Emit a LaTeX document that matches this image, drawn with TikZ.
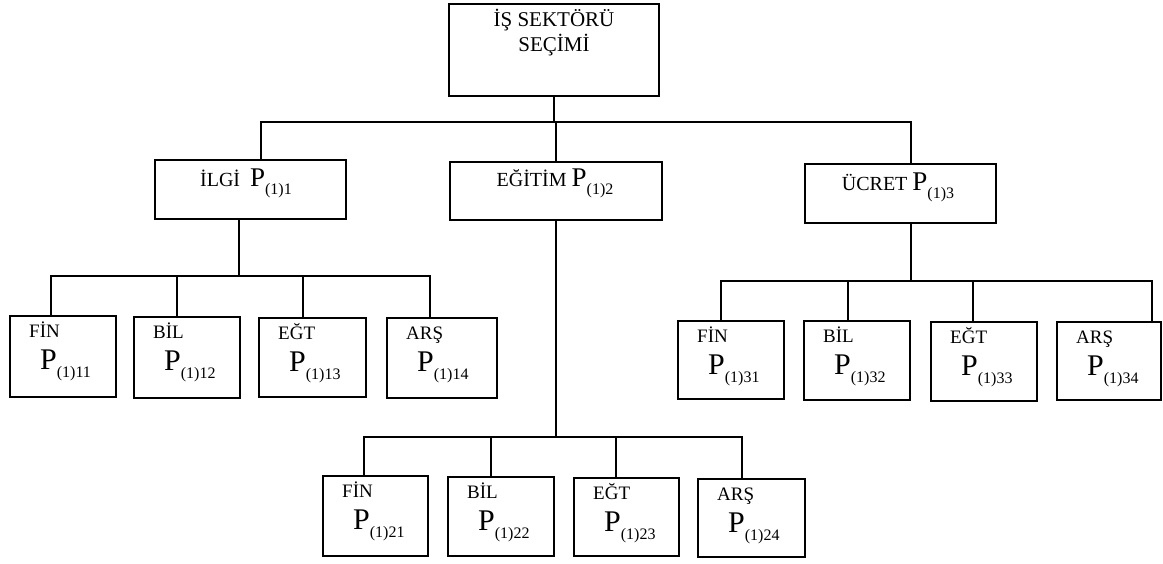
\documentclass[tikz,border=0pt]{standalone}
\usepackage{fontspec}
\setmainfont{Liberation Serif}
\usetikzlibrary{calc}
\newcommand{\Psub}[3]{{\fontsize{#1}{#1}\selectfont P}\raisebox{-8pt}{\fontsize{#2}{#2}\selectfont #3}}
\begin{document}
\begin{tikzpicture}[x=1pt,y=-1pt,
  box/.style={draw, line width=1.6pt, rectangle, inner sep=0pt, outer sep=0pt, anchor=north west},
  leafbox/.style={box, minimum width=106pt, minimum height=81pt},
  midbox/.style={box, minimum width=191pt, minimum height=59pt},
  conn/.style={line width=1.6pt},
  lbl/.style={inner sep=0pt, anchor=base west, font=\fontsize{19}{19}\selectfont},
  ptxt/.style={inner sep=0pt, anchor=base west},
  midtxt/.style={inner sep=0pt, anchor=base, font=\fontsize{20}{20}\selectfont}]
\useasboundingbox (0,0) rectangle (1163,563);

% top
\node[box, minimum width=210pt, minimum height=92pt] (top) at (449,4) {};
\node[inner sep=0pt, anchor=north, align=center, font=\fontsize{21}{25}\selectfont] (topt) at (554,9) {İŞ SEKTÖRÜ\\SEÇİMİ};

% level 2
\node[midbox] (ilgi) at (155,160) {};
\node[midbox, minimum width=212pt, minimum height=58pt] (egitim) at (450,162) {};
\node[midbox] (ucret) at (805,164) {};
\node[midtxt] (ilgit) at (246,186) {İLGİ\ \ \Psub{27}{16}{(1)1}};
\node[midtxt] (egitimt) at (555,186) {EĞİTİM \Psub{27}{16}{(1)2}};
\node[midtxt] (ucrett) at (898,190) {ÜCRET \Psub{27}{16}{(1)3}};

% bus level 1
\coordinate (t0) at (554,122);
\coordinate (bL) at (261,122);
\coordinate (bR) at (911,122);
\draw[conn] (top.south -| t0) -- (t0);
\draw[conn] (bL |- ilgi.north) -- (bL) -- (bR) -- (bR |- ucret.north);
\draw[conn] (t0) -- (t0 -| egitim.north) -- (egitim.north);

% group 1
\node[leafbox] (f11) at (10,316) {};
\node[leafbox] (b12) at (134,317) {};
\node[leafbox, minimum width=107pt, minimum height=79pt] (e13) at (259,318) {};
\node[leafbox, minimum width=110pt, minimum height=80pt] (a14) at (387,318) {};
\coordinate (g1c) at (239,276);
\coordinate (g1a) at (51,276);
\coordinate (g1b) at (177,276);
\coordinate (g1d) at (303,276);
\coordinate (g1e) at (430,276);
\draw[conn] (g1c |- ilgi.south) -- (g1c);
\draw[conn] (g1a |- f11.north) -- (g1a) -- (g1e) -- (g1e |- a14.north);
\draw[conn] (g1b) -- (g1b |- b12.north);
\draw[conn] (g1d) -- (g1d |- e13.north);

% group 2
\node[leafbox, minimum width=105pt, minimum height=80pt] (f21) at (323,476) {};
\node[leafbox, minimum height=79pt] (b22) at (448,477) {};
\node[leafbox, minimum width=105pt, minimum height=78pt] (e23) at (574,478) {};
\node[leafbox, minimum width=107pt, minimum height=78pt] (a24) at (698,479) {};
\coordinate (g2c) at (555,437);
\coordinate (g2a) at (364,437);
\coordinate (g2b) at (491,437);
\coordinate (g2d) at (616,437);
\coordinate (g2e) at (742,437);
\draw[conn] (egitim.south) -- (egitim.south |- g2c);
\draw[conn] (g2a |- f21.north) -- (g2a) -- (g2e) -- (g2e |- a24.north);
\draw[conn] (g2b) -- (g2b |- b22.north);
\draw[conn] (g2d) -- (g2d |- e23.north);

% group 3
\node[leafbox, minimum height=78pt] (f31) at (678,321) {};
\node[leafbox, minimum height=79pt] (b32) at (804,321) {};
\node[leafbox, minimum height=79pt] (e33) at (931,322) {};
\node[leafbox, minimum width=104pt, minimum height=78pt] (a34) at (1057,322) {};
\coordinate (g3c) at (911,281);
\coordinate (g3a) at (721,281);
\coordinate (g3b) at (848,281);
\coordinate (g3d) at (973,281);
\coordinate (g3e) at (1152,281);
\draw[conn] (ucret.south -| g3c) -- (g3c);
\draw[conn] (g3a |- f31.north) -- (g3a) -- (g3e) -- (g3e |- a34.north);
\draw[conn] (g3b) -- (g3b |- b32.north);
\draw[conn] (g3d) -- (g3d |- e33.north);

% leaf texts
\foreach \n/\l/\s in {f11/FİN/(1)11, b12/BİL/(1)12, e13/EĞT/(1)13, a14/ARŞ/(1)14,
                      f21/FİN/(1)21, b22/BİL/(1)22, e23/EĞT/(1)23, a24/ARŞ/(1)24,
                      f31/FİN/(1)31, b32/BİL/(1)32, e33/EĞT/(1)33, a34/ARŞ/(1)34}{
  \node[lbl] (\n l) at ($(\n.north west)+(19,21)$) {\l};
  \node[ptxt] (\n p) at ($(\n.north west)+(30,53)$) {\Psub{30}{16}{\s}};
}
\end{tikzpicture}
\end{document}
